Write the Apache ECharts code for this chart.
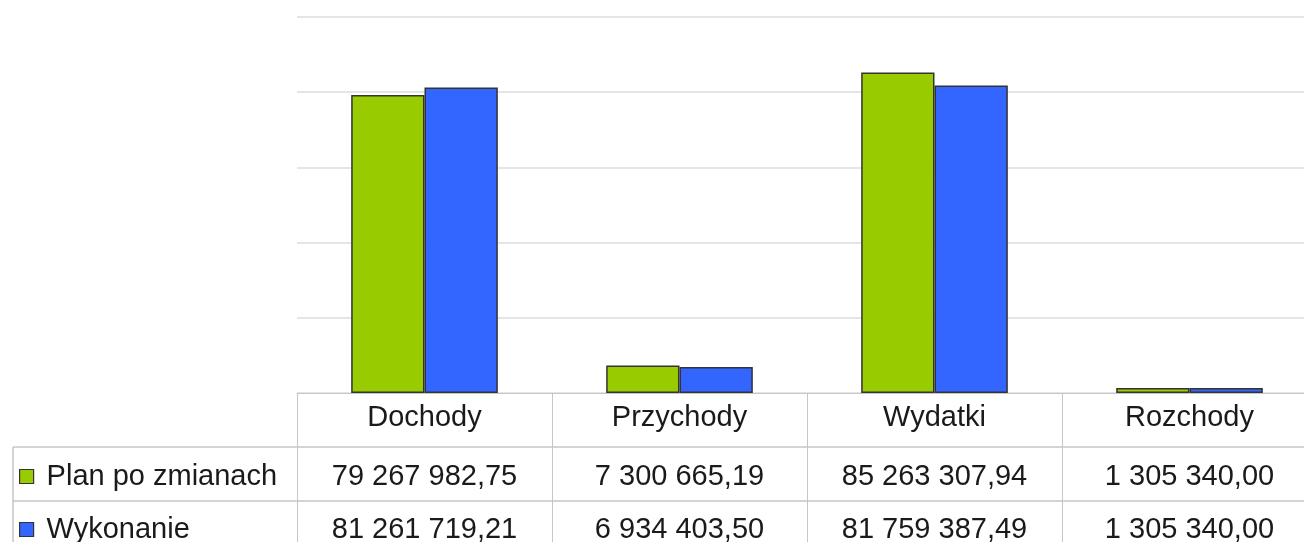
<!DOCTYPE html>
<html>
<head>
<meta charset="utf-8">
<script src="https://cdn.jsdelivr.net/npm/echarts@6/dist/echarts.min.js"></script>
<style>
  html, body { margin: 0; padding: 0; background: #fff; }
  #chart { width: 1304px; height: 542px; }
</style>
</head>
<body>
<div id="chart"></div>
<script>
// dane
const categories = ['Dochody', 'Przychody', 'Wydatki', 'Rozchody']
const seriesNames = ['Plan po zmianach', 'Wykonanie']
const planValues = [79267982.75, 7300665.19, 85263307.94, 1305340.00]
const wykonanieValues = [81261719.21, 6934403.50, 81759387.49, 1305340.00]
const yMin = 0
const yMax = 100000000
const yStep = 20000000

// uklad tabeli pod wykresem
const gridLeft = 297
const gridTop = 17
const gridBottom = 393
const rowH = 54
const tableLeft = 13
const lineColor = '#c6c6c6'
const textColor = '#1a1a1a'
const font = 'Liberation Sans, Arial, sans-serif'
const fontSize = 29

// 79267982.75 -> "79 267 982,75"
function plNumber(v) {
  const parts = v.toFixed(2).split('.')
  const int = parts[0].replace(/\B(?=(\d{3})+(?!\d))/g, ' ')
  return int + ',' + parts[1]
}

function tableAxis(data, offset, margin, extra) {
  return Object.assign({
    type: 'category',
    data: data,
    position: 'bottom',
    offset: offset,
    axisLine: { show: false },
    axisTick: { show: false },
    axisLabel: {
      interval: 0,
      margin: margin,
      verticalAlign: 'middle',
      fontSize: fontSize,
      fontFamily: font,
      color: textColor
    }
  }, extra || {})
}

function legendRow(name, top) {
  return {
    data: [name],
    left: 19,
    top: top,
    padding: 0,
    icon: 'rect',
    itemWidth: 14,
    itemHeight: 14,
    itemStyle: { borderColor: '#333', borderWidth: 1.2 },
    textStyle: { fontSize: fontSize, fontFamily: font, color: textColor, padding: [0, 0, 0, 8] }
  }
}

const chart = echarts.init(document.getElementById('chart'))
chart.setOption({
  animation: false,
  backgroundColor: '#fff',
  grid: {
    left: gridLeft,
    top: gridTop,
    width: 1020,
    height: gridBottom - gridTop,
    outerBoundsMode: 'none',
    containLabel: false
  },
  legend: [
    legendRow(seriesNames[0], 462),
    legendRow(seriesNames[1], 515)
  ],
  xAxis: [
    tableAxis(categories, 0, 25, {
      axisLine: { show: true, lineStyle: { color: lineColor } },
      axisTick: { show: true, length: 542 - gridBottom, lineStyle: { color: lineColor } }
    }),
    tableAxis(planValues.map(plNumber), rowH, 30),
    tableAxis(wykonanieValues.map(plNumber), rowH * 2, 29)
  ],
  yAxis: {
    type: 'value',
    min: yMin,
    max: yMax,
    interval: yStep,
    axisLine: { show: false },
    axisTick: { show: false },
    axisLabel: { show: false },
    splitLine: { lineStyle: { color: '#dcdcdc', width: 1.5 } }
  },
  graphic: [
    { type: 'line', shape: { x1: tableLeft, y1: gridBottom + rowH, x2: 1304, y2: gridBottom + rowH }, style: { stroke: lineColor, lineWidth: 1.5 } },
    { type: 'line', shape: { x1: tableLeft, y1: gridBottom + rowH * 2, x2: 1304, y2: gridBottom + rowH * 2 }, style: { stroke: lineColor, lineWidth: 1.5 } },
    { type: 'line', shape: { x1: tableLeft, y1: gridBottom + rowH, x2: tableLeft, y2: 542 }, style: { stroke: lineColor, lineWidth: 1.5 } }
  ],
  series: [
    {
      name: seriesNames[0],
      type: 'bar',
      data: planValues,
      barGap: '0%',
      barCategoryGap: '42.5%',
      itemStyle: { color: '#99cc00', borderColor: '#333', borderWidth: 1.5 }
    },
    {
      name: seriesNames[1],
      type: 'bar',
      data: wykonanieValues,
      itemStyle: { color: '#3366ff', borderColor: '#333', borderWidth: 1.5 }
    }
  ]
})
</script>
</body>
</html>
